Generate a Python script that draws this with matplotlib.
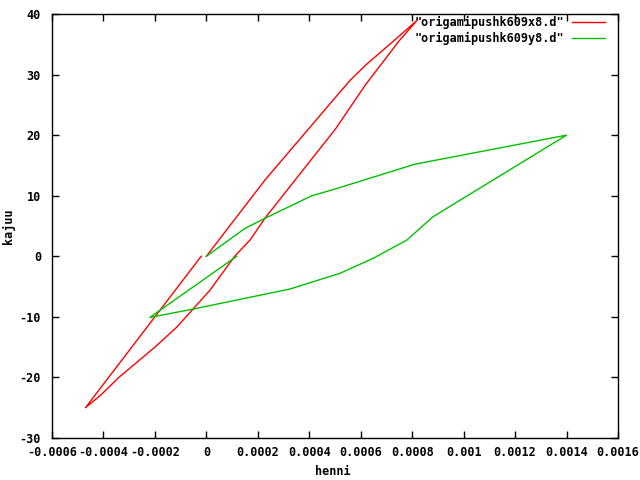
import matplotlib
matplotlib.use("Agg")
import matplotlib.pyplot as plt
from matplotlib.ticker import MultipleLocator, FuncFormatter

# red series: origamipushk609x8.d
red_x = [0, 0.000228, 0.000493, 0.00056, 0.00062, 0.00074, 0.00082,
         0.00075, 0.00062, 0.0005, 0.00044, 0.000228, 0.00017, 0.00011, 0.000014, -0.00006,
         -0.000115, -0.0002, -0.00034, -0.00041, -0.00047, -0.00002]
red_y = [0, 12.6, 25.8, 29.1, 31.6, 36.0, 39.0,
         35.6, 28.4, 20.9, 17.7, 6.3, 2.7, 0, -5.6, -9.1,
         -11.7, -15.0, -20.0, -22.9, -25.0, 0]

# green series: origamipushk609y8.d
green_x = [0, 0.00015, 0.000234, 0.00041, 0.0005, 0.00081, 0.0014,
           0.00088, 0.00078, 0.00065, 0.00052, 0.000325, -0.00005, -0.00022, 0.000118]
green_y = [0, 4.6, 6.4, 10.0, 11.1, 15.2, 20.0,
           6.5, 2.7, -0.3, -2.8, -5.4, -8.7, -10.1, 0]

labels = ['"origamipushk609x8.d"', '"origamipushk609y8.d"']

font = {"family": "DejaVu Sans Mono", "weight": "bold", "size": 8.5}

fig = plt.figure(figsize=(6.4, 4.8), dpi=100)
ax = fig.add_axes([52/640, 1-438/480, (618-52)/640, (438-14)/480])

ax.plot(red_x, red_y, color="#ff0000", lw=1, label=labels[0])
ax.plot(green_x, green_y, color="#00c000", lw=1, label=labels[1])

ax.set_xlim(-0.0006, 0.0016)
ax.set_ylim(-30, 40)
ax.xaxis.set_major_locator(MultipleLocator(0.0002))
ax.yaxis.set_major_locator(MultipleLocator(10))

def fmtx(v, pos):
    if abs(v) < 1e-12:
        return "0"
    return ("%.4f" % v).rstrip("0").rstrip(".")
ax.xaxis.set_major_formatter(FuncFormatter(fmtx))
ax.yaxis.set_major_formatter(FuncFormatter(lambda v, p: "%d" % v))

ax.tick_params(direction="in", length=5, width=1, top=True, right=True,
               labelsize=8.5, pad=6)
ax.tick_params(axis="y", pad=8)
for lab in ax.get_xticklabels() + ax.get_yticklabels():
    lab.set_fontfamily("DejaVu Sans Mono")
    lab.set_fontweight("bold")
for s in ax.spines.values():
    s.set_linewidth(1)

ax.set_xlabel("henni", fontdict=font)
ax.xaxis.set_label_coords((333-52)/566, (438-465)/424)
ax.set_ylabel("kajuu", fontdict=font)
ax.yaxis.set_label_coords((15-52)/566, (438-226)/424)

leg = ax.legend(loc="upper right", bbox_to_anchor=((606-52)/566, (438-15)/424),
                frameon=False, markerfirst=False,
                prop={"family": "DejaVu Sans Mono", "weight": "bold", "size": 8.5},
                handlelength=2.8, handletextpad=0.6, labelspacing=0.2,
                borderaxespad=0.0, borderpad=0.1)

fig.savefig("out.png", dpi=100)
